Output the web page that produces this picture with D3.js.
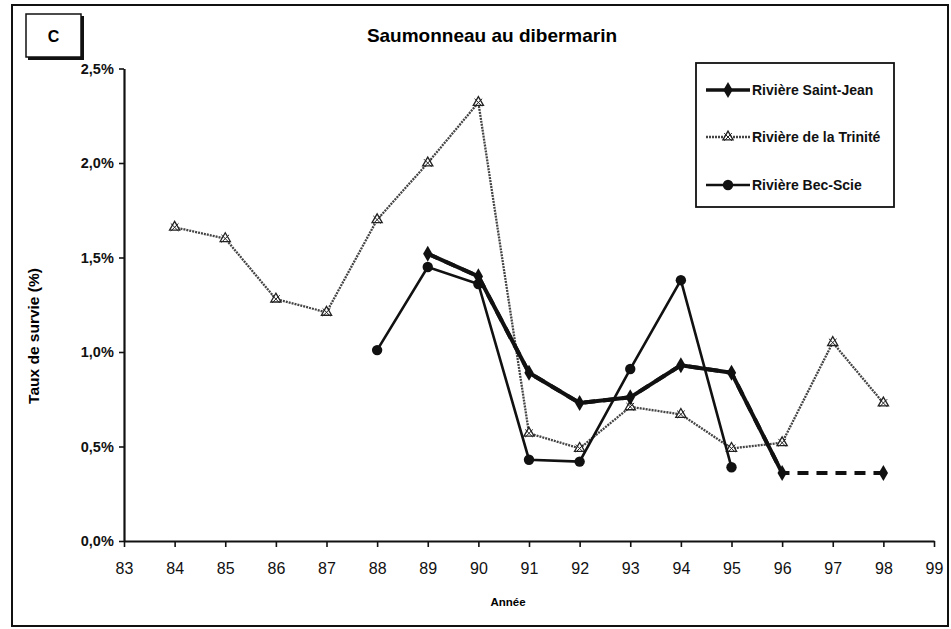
<!DOCTYPE html>
<html><head><meta charset="utf-8">
<script src="https://cdn.jsdelivr.net/npm/d3@7"></script>
<style>
body{margin:0;background:#fff;}
svg{display:block;font-family:"Liberation Sans",Arial,Helvetica,sans-serif;}
</style></head>
<body><svg id="c" width="951" height="629"></svg>
<script>
const years = [84,85,86,87,88,89,90,91,92,93,94,95,96,97,98];
const saintJean = [null,null,null,null,null,1.52,1.40,0.89,0.73,0.76,0.93,0.89,0.36,null,0.36];
const trinite   = [1.66,1.60,1.28,1.21,1.70,2.00,2.32,0.57,0.49,0.71,0.67,0.49,0.52,1.05,0.73];
const becScie   = [null,null,null,null,1.01,1.45,1.36,0.43,0.42,0.91,1.38,0.39,null,null,null];
const xTicks = [83,84,85,86,87,88,89,90,91,92,93,94,95,96,97,98,99];
const yTicks = [0,0.5,1.0,1.5,2.0,2.5];
const seriesNames = ["Rivière Saint-Jean","Rivière de la Trinité","Rivière Bec-Scie"];
const title = "Saumonneau au dibermarin";
const panelLabel = "C";
const xTitle = "Année";
const yTitle = "Taux de survie (%)";

const svg = d3.select("#c");
const x = d3.scaleLinear().domain([83,99]).range([124,934]);
const y = d3.scaleLinear().domain([0,2.5]).range([541,68.5]);

// outer frame
svg.append("rect").attr("x",12).attr("y",5).attr("width",936).attr("height",621)
  .attr("fill","none").attr("stroke","#111").attr("stroke-width",2);
// panel label box with shadow
svg.append("rect").attr("x",28).attr("y",16).attr("width",56).attr("height",44).attr("fill","#111");
svg.append("rect").attr("x",26).attr("y",14).attr("width",55).attr("height",43)
  .attr("fill","#fff").attr("stroke","#111").attr("stroke-width",1.5);
svg.append("text").attr("x",53.5).attr("y",41.5).attr("text-anchor","middle")
  .attr("font-size",16).attr("font-weight","bold").text(panelLabel);

// title
svg.append("text").attr("x",492).attr("y",42).attr("text-anchor","middle")
  .attr("font-size",19).attr("font-weight","bold").text(title);

// axes
const fmtY = v => d3.format(".1f")(v).replace(".",",") + "%";
const xAxis = svg.append("g").attr("transform","translate(0,541)")
  .call(d3.axisBottom(x).tickValues(xTicks).tickFormat(d3.format("d")).tickSize(6).tickSizeOuter(0));
const yAxis = svg.append("g").attr("transform","translate(124,0)")
  .call(d3.axisLeft(y).tickValues(yTicks).tickFormat(fmtY).tickSize(5).tickSizeOuter(0));
[xAxis,yAxis].forEach(a=>{
  a.select(".domain").attr("stroke","#111").attr("stroke-width",2.2);
  a.selectAll(".tick line").attr("stroke","#111").attr("stroke-width",1.6);
  a.selectAll("text").attr("fill","#111").attr("font-family","Liberation Sans, Arial, sans-serif");
});
xAxis.selectAll("text").attr("font-size",16).attr("dy","1.5em");
yAxis.selectAll("text").attr("font-size",14.5).attr("font-weight","bold").attr("dx","-0.15em");

// axis titles
svg.append("text").attr("x",508).attr("y",606).attr("text-anchor","middle")
  .attr("font-size",11.5).attr("font-weight","bold").text(xTitle);
svg.append("text").attr("transform","translate(39,336) rotate(-90)").attr("text-anchor","middle")
  .attr("font-size",15.5).attr("font-weight","bold").text(yTitle);

const line = d3.line().defined(d=>d.v!=null).x(d=>x(d.yr)).y(d=>y(d.v));
const pts = arr => years.map((yr,i)=>({yr, v:arr[i]}));

// Trinité: gray, dotted-looking line with open star/triangle markers
const tData = pts(trinite);
svg.append("path").datum(tData).attr("d",line).attr("fill","none")
  .attr("stroke","#444").attr("stroke-width",2.3).attr("stroke-dasharray","2,1");
const triSym = d3.symbol().type(d3.symbolTriangle).size(45);
const crossSym = d3.symbol().type(d3.symbolX).size(40);
const tG = svg.append("g").selectAll("g").data(tData.filter(d=>d.v!=null)).join("g")
  .attr("transform",d=>`translate(${x(d.yr)},${y(d.v)})`);
tG.append("path").attr("d",triSym).attr("fill","#fff").attr("stroke","#222").attr("stroke-width",1.3);
tG.append("path").attr("d",crossSym).attr("fill","none").attr("stroke","#222").attr("stroke-width",1);

// Bec-Scie: medium black line, circle markers
const bData = pts(becScie);
svg.append("path").datum(bData).attr("d",line).attr("fill","none")
  .attr("stroke","#111").attr("stroke-width",2.6);
svg.append("g").selectAll("circle").data(bData.filter(d=>d.v!=null)).join("circle")
  .attr("cx",d=>x(d.yr)).attr("cy",d=>y(d.v)).attr("r",5.2).attr("fill","#111");

// Saint-Jean: thick black line, diamond markers, dashed across missing year
const sData = pts(saintJean);
const sValid = sData.filter(d=>d.v!=null);
svg.append("path").datum(sValid).attr("d",d3.line().x(d=>x(d.yr)).y(d=>y(d.v)))
  .attr("fill","none").attr("stroke","#111").attr("stroke-width",4).attr("stroke-dasharray","11,8");
svg.append("path").datum(sData).attr("d",line).attr("fill","none")
  .attr("stroke","#111").attr("stroke-width",4).attr("stroke-linejoin","round");
const diaSym = d3.symbol().type(d3.symbolDiamond).size(75);
svg.append("g").selectAll("path").data(sValid).join("path")
  .attr("transform",d=>`translate(${x(d.yr)},${y(d.v)})`).attr("d",diaSym).attr("fill","#111");

// legend
svg.append("rect").attr("x",696).attr("y",63).attr("width",198).attr("height",144)
  .attr("fill","#fff").attr("stroke","#111").attr("stroke-width",1.8);
const legY = [90,137,185];
const lg = svg.append("g").selectAll("g").data(seriesNames).join("g")
  .attr("transform",(d,i)=>`translate(0,${legY[i]})`);
lg.append("text").attr("x",752).attr("y",5).attr("font-size",14).attr("font-weight","bold")
  .attr("fill","#111").text(d=>d);
// sample lines
lg.filter((d,i)=>i===0).call(g=>{
  g.append("line").attr("x1",706).attr("x2",750).attr("stroke","#111").attr("stroke-width",3.5);
  g.append("path").attr("transform","translate(728,0)").attr("d",diaSym).attr("fill","#111");
});
lg.filter((d,i)=>i===1).call(g=>{
  g.append("line").attr("x1",706).attr("x2",750).attr("stroke","#444").attr("stroke-width",2.3).attr("stroke-dasharray","2,1");
  g.append("path").attr("transform","translate(728,0)").attr("d",triSym).attr("fill","#fff").attr("stroke","#222").attr("stroke-width",1.3);
  g.append("path").attr("transform","translate(728,0)").attr("d",crossSym).attr("fill","none").attr("stroke","#222").attr("stroke-width",1);
});
lg.filter((d,i)=>i===2).call(g=>{
  g.append("line").attr("x1",706).attr("x2",750).attr("stroke","#111").attr("stroke-width",2.6);
  g.append("circle").attr("cx",728).attr("cy",0).attr("r",5.2).attr("fill","#111");
});
</script></body></html>
